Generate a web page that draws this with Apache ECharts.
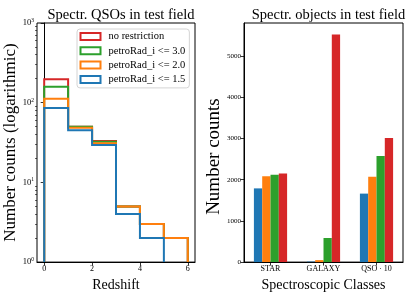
<!DOCTYPE html>
<html><head><meta charset="utf-8">
<script src="https://cdn.jsdelivr.net/npm/echarts@6/dist/echarts.min.js"></script>
<style>html,body{margin:0;padding:0;background:#fff}#c{width:415px;height:297px}</style>
</head><body><div id="c"></div>
<script>
// ---- Left panel: redshift histograms (step lines) ----
const binEdges = [0, 1, 2, 3, 4, 5, 6];
const histNames = ['no restriction', 'petroRad_i <= 3.0', 'petroRad_i <= 2.0', 'petroRad_i <= 1.5'];
const countsAll = [197, 50, 33, 5, 3, 2];
const counts30 = [159, 50, 32.4, 5, 3, 2];
const counts20 = [112, 48.4, 31, 5, 3, 2];
const counts15 = [86, 45, 29.5, 4, 2, 0];
const logMinorTicks = [2,3,4,5,6,7,8,9,20,30,40,50,60,70,80,90,200,300,400,500,600,700,800,900];
const redshiftTicks = [0, 2, 4, 6];

// ---- Right panel: spectroscopic classes (grouped bars) ----
const classes = ['STAR', 'GALAXY', 'QSO · 10'];
const barNames = ['petroRad_i <= 1.5', 'petroRad_i <= 2.0', 'petroRad_i <= 3.0', 'no restriction'];
const bars15 = [1790, 12, 1663];
const bars20 = [2087, 48, 2072];
const bars30 = [2120, 585, 2578];
const barsAll = [2152, 5525, 3012];
const countTicks = [0, 1000, 2000, 3000, 4000, 5000];

const C_BLUE = '#1f77b4', C_ORANGE = '#ff7f0e', C_GREEN = '#2ca02c', C_RED = '#d62728';
const FF = 'Liberation Serif';

function stepPoints(counts) {
  let last = counts.length;
  while (last > 0 && counts[last - 1] === 0) last--;
  const pts = [[binEdges[0], 1]];
  for (let i = 0; i < last; i++) pts.push([binEdges[i], counts[i]]);
  pts.push([binEdges[last], counts[last - 1]]);
  pts.push([binEdges[last], 1]);
  return pts;
}

const histSeries = [countsAll, counts30, counts20, counts15];
const histColors = [C_RED, C_GREEN, C_ORANGE, C_BLUE];
const barSeries = [bars15, bars20, bars30, barsAll];
const barColors = [C_BLUE, C_ORANGE, C_GREEN, C_RED];

const tickStyle = { show: true, inside: false, length: 3.5, lineStyle: { color: '#000', width: 0.8 } };
const lineStyle = { show: true, lineStyle: { color: '#000', width: 1 } };

const chart = echarts.init(document.getElementById('c'), null, { renderer: 'canvas' });
chart.setOption({
  animation: false,
  backgroundColor: '#fff',
  title: [
    { text: 'Spectr. QSOs in test field', left: 116, top: 3, textAlign: 'center',
      textStyle: { fontFamily: FF, fontSize: 14.5, fontWeight: 'normal', color: '#000' } },
    { text: 'Spectr. objects in test field', left: 323.5, top: 3, textAlign: 'center',
      textStyle: { fontFamily: FF, fontSize: 14.5, fontWeight: 'normal', color: '#000' } }
  ],
  legend: {
    left: 77, top: 29, orient: 'vertical',
    itemWidth: 20, itemHeight: 7, itemGap: 2.3,
    padding: [1.5, 4, 2.5, 2.5],
    borderColor: '#d4d4d4', borderWidth: 1, borderRadius: 3,
    backgroundColor: 'rgba(255,255,255,0.8)',
    textStyle: { fontFamily: FF, fontSize: 10.5, color: '#000', lineHeight: 12, padding: [0, 0, 0, 3] },
    data: histNames.map((n, i) => ({ name: n, icon: 'rect',
      itemStyle: { color: 'rgba(0,0,0,0)', borderColor: histColors[i], borderWidth: 2 } })),
    selectedMode: false
  },
  grid: [
    { left: 37, top: 23, width: 158, height: 241, show: true, borderColor: '#000', borderWidth: 1 },
    { left: 244, top: 23, width: 159, height: 241, show: true, borderColor: '#000', borderWidth: 1 }
  ],
  xAxis: [
    { type: 'value', gridIndex: 0, min: -0.3, max: 6.3,
      name: 'Redshift', nameLocation: 'middle', nameGap: 15,
      nameTextStyle: { fontFamily: FF, fontSize: 14, color: '#000' },
      axisLine: lineStyle, splitLine: { show: false },
      axisTick: Object.assign({ customValues: redshiftTicks }, tickStyle),
      axisLabel: { customValues: redshiftTicks, fontFamily: FF, fontSize: 8, color: '#000', margin: 3 } },
    { type: 'category', gridIndex: 1, data: classes,
      name: 'Spectroscopic Classes', nameLocation: 'middle', nameGap: 15,
      nameTextStyle: { fontFamily: FF, fontSize: 14, color: '#000' },
      axisLine: lineStyle, splitLine: { show: false },
      axisTick: Object.assign({ alignWithLabel: true }, tickStyle),
      axisLabel: { fontFamily: FF, fontSize: 8, color: '#000', margin: 3 } }
  ],
  yAxis: [
    { type: 'log', logBase: 10, gridIndex: 0, min: 1, max: 1000, position: 'left',
      name: 'Number counts (logarithmic)', nameLocation: 'middle', nameGap: 17,
      nameTextStyle: { fontFamily: FF, fontSize: 17, color: '#000' },
      axisLine: lineStyle, splitLine: { show: false },
      axisTick: tickStyle,
      axisLabel: { fontFamily: FF, fontSize: 8.5, color: '#000', margin: 3,
        formatter: v => '10{s|' + Math.round(Math.log10(v)) + '}',
        rich: { s: { fontFamily: FF, fontSize: 5.5, color: '#000', padding: [0, 0, 5, 0] } } } },
    { type: 'log', logBase: 10, gridIndex: 0, min: 1, max: 1000, position: 'left', offset: 0,
      axisLine: { show: false }, splitLine: { show: false },
      axisTick: { show: true, customValues: logMinorTicks, length: 2, lineStyle: { color: '#000', width: 0.6 } },
      axisLabel: { show: false } },
    { type: 'value', gridIndex: 1, min: 0, max: 5806,
      name: 'Number counts', nameLocation: 'middle', nameGap: 19,
      nameTextStyle: { fontFamily: FF, fontSize: 19, color: '#000', padding: [0, 28, 0, 0] },
      axisLine: lineStyle, splitLine: { show: false },
      axisTick: Object.assign({ customValues: countTicks }, tickStyle),
      axisLabel: { customValues: countTicks, fontFamily: FF, fontSize: 7, color: '#000', margin: 3,
        formatter: v => String(v) } }
  ],
  series: histSeries.map((arr, i) => ({
    name: histNames[i], type: 'line', xAxisIndex: 0, yAxisIndex: 0,
    data: stepPoints(arr), step: 'end', symbol: 'none', showSymbol: false,
    lineStyle: { color: histColors[i], width: 2, cap: 'butt', join: 'miter' },
    itemStyle: { color: histColors[i] }, silent: true
  })).concat(barSeries.map((arr, i) => ({
    name: barNames[i] + ' ', type: 'bar', xAxisIndex: 1, yAxisIndex: 2,
    data: arr, barWidth: 8.3, barGap: '0%',
    itemStyle: { color: barColors[i] }, silent: true
  })))
});
</script></body></html>
